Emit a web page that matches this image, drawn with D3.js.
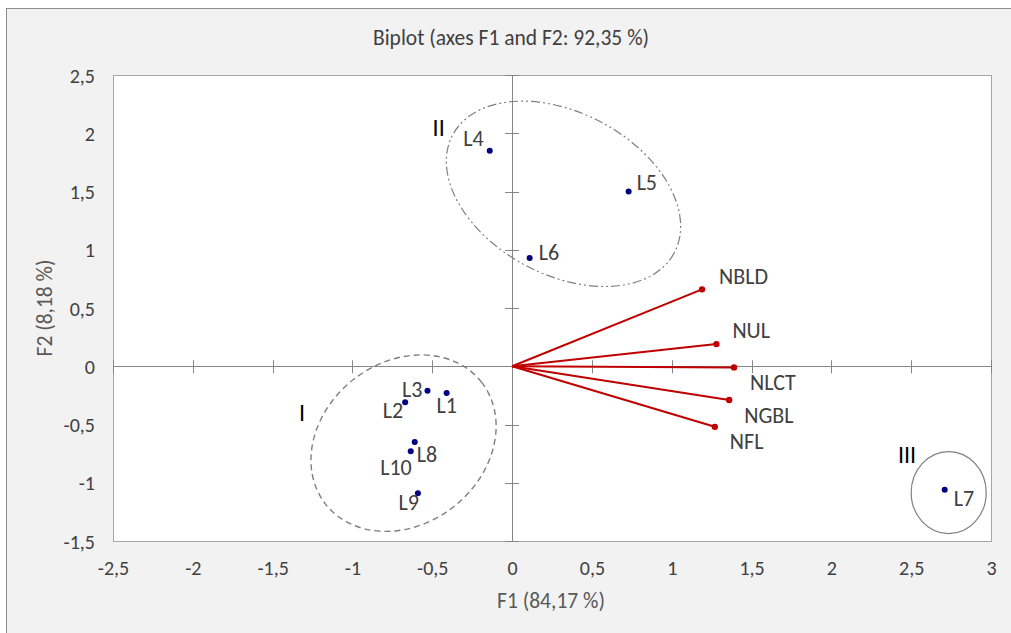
<!DOCTYPE html>
<html><head><meta charset="utf-8">
<script src="https://cdn.jsdelivr.net/npm/d3@7"></script>
<style>body{margin:0;background:#fff}svg{display:block}</style>
</head><body>
<script>
// ---- data ----
const obsNames = ["L1","L2","L3","L4","L5","L6","L7","L8","L9","L10"];
const obsF1 = [-0.41,-0.67,-0.53,-0.14,0.73,0.11,2.71,-0.61,-0.59,-0.635];
const obsF2 = [-0.23,-0.31,-0.21,1.85,1.50,0.93,-1.06,-0.65,-1.09,-0.73];
const varNames = ["NBLD","NUL","NLCT","NGBL","NFL"];
const varF1 = [1.19,1.28,1.39,1.36,1.27];
const varF2 = [0.66,0.19,-0.01,-0.29,-0.52];
const xTicks = [-2.5,-2,-1.5,-1,-0.5,0,0.5,1,1.5,2,2.5,3];
const yTicks = [-1.5,-1,-0.5,0,0.5,1,1.5,2,2.5];
const groupNames = ["I","II","III"];
const groupX = [-1.316,-0.46,2.474];
const groupY = [-0.40,2.05,-0.76];
const ellipseCX = [-0.68,0.322,2.735];
const ellipseCY = [-0.66,1.48,-1.085];

// ---- layout (not data) ----
const W = 1011, H = 633;
const box = {l:113, r:991, t:75, b:541};
const ellipseStyle = [
  {rx:99, ry:81, rot:-38, dash:"6,4", sw:1.4},
  {rx:125.5, ry:81, rot:28, dash:"9,3,2,3,2,3", sw:1.2},
  {rx:37.5, ry:41, rot:0, dash:null, sw:1.2}
];
const obsLabel = {
  L1:{dx:0,dy:12,a:"middle"}, L2:{dx:-2,dy:8,a:"end"}, L3:{dx:-5,dy:-1,a:"end"},
  L4:{dx:-6,dy:-12,a:"end"}, L5:{dx:8,dy:-9,a:"start"}, L6:{dx:9,dy:-5,a:"start"},
  L7:{dx:9,dy:9,a:"start"}, L8:{dx:2,dy:13,a:"start"}, L9:{dx:1,dy:9,a:"end"},
  L10:{dx:1,dy:16,a:"end"}
};
const varLabel = {
  NBLD:{dx:17,dy:-13}, NUL:{dx:16,dy:-14}, NLCT:{dx:16,dy:15}, NGBL:{dx:15,dy:15}, NFL:{dx:15,dy:15}
};
const FONT = "Carlito, 'Liberation Sans', Arial, sans-serif";

const svg = d3.select("body").append("svg").attr("width",W).attr("height",H)
  .style("font-family",FONT);

svg.append("rect").attr("x",0).attr("y",0).attr("width",W).attr("height",H).attr("fill","#fff");
svg.append("rect").attr("x",6.5).attr("y",8.5).attr("width",W+10).attr("height",H+10)
  .attr("fill","#f2f2f2").attr("stroke","#8c8c8c").attr("stroke-width",1);

const x = d3.scaleLinear().domain([-2.5,3]).range([box.l,box.r]);
const y = d3.scaleLinear().domain([-1.5,2.5]).range([box.b,box.t]);

svg.append("rect").attr("x",box.l+0.5).attr("y",box.t+0.5)
  .attr("width",box.r-box.l).attr("height",box.b-box.t)
  .attr("fill","#fff").attr("stroke","#a6a6a6").attr("stroke-width",1);

// title
svg.append("text").attr("x",511).attr("y",45).attr("text-anchor","middle")
  .attr("font-size",21.5).attr("fill","#404040").text("Biplot (axes F1 and F2: 92,35 %)");

// tick labels via axes (domain/lines hidden), placed outside box
const fmt = d=>String(d).replace(".",",");
const xAxis = svg.append("g").attr("transform",`translate(0,${box.b})`)
  .call(d3.axisBottom(x).tickValues(xTicks).tickSize(0).tickFormat(fmt));
xAxis.select(".domain").remove();
xAxis.selectAll("text").attr("y",27).attr("dy",null).attr("dominant-baseline","central")
  .attr("font-size",20).attr("fill","#404040").style("font-family",FONT);

const yAxis = svg.append("g").attr("transform",`translate(${box.l},0)`)
  .call(d3.axisLeft(y).tickValues(yTicks).tickSize(0).tickFormat(fmt));
yAxis.select(".domain").remove();
yAxis.selectAll("text").attr("x",-18).attr("dy",null).attr("dominant-baseline","central")
  .attr("font-size",20).attr("fill","#404040").style("font-family",FONT);

// axis titles
svg.append("text").attr("x",551).attr("y",601).attr("text-anchor","middle")
  .attr("dominant-baseline","central").attr("font-size",21.5).attr("fill","#595959").text("F1 (84,17 %)");
svg.append("text").attr("transform","translate(45,308) rotate(-90)").attr("text-anchor","middle")
  .attr("dominant-baseline","central").attr("font-size",21.5).attr("fill","#595959").text("F2 (8,18 %)");

// zero axes with crossing ticks
const ax = svg.append("g").attr("stroke","#868686").attr("stroke-width",1);
ax.append("line").attr("x1",box.l).attr("x2",box.r).attr("y1",Math.round(y(0))+0.5).attr("y2",Math.round(y(0))+0.5);
ax.append("line").attr("y1",box.t).attr("y2",box.b).attr("x1",Math.round(x(0))+0.5).attr("x2",Math.round(x(0))+0.5);
xTicks.filter(d=>d!==0).forEach(d=>{
  ax.append("line").attr("x1",Math.round(x(d))+0.5).attr("x2",Math.round(x(d))+0.5)
    .attr("y1",y(0)-6).attr("y2",y(0)+7);
});
yTicks.filter(d=>d!==0).forEach(d=>{
  ax.append("line").attr("y1",Math.round(y(d))+0.5).attr("y2",Math.round(y(d))+0.5)
    .attr("x1",x(0)-7).attr("x2",x(0)+7);
});

// ellipses
ellipseCX.forEach((cx,i)=>{
  const s = ellipseStyle[i];
  const e = svg.append("ellipse").attr("cx",0).attr("cy",0).attr("rx",s.rx).attr("ry",s.ry)
    .attr("transform",`translate(${x(cx)},${y(ellipseCY[i])}) rotate(${s.rot})`)
    .attr("fill","none").attr("stroke","#7f7f7f").attr("stroke-width",s.sw);
  if(s.dash) e.attr("stroke-dasharray",s.dash);
});

// group labels
groupNames.forEach((g,i)=>{
  svg.append("text").attr("x",x(groupX[i])).attr("y",y(groupY[i])).attr("text-anchor","middle")
    .attr("dominant-baseline","central").attr("font-size",24).attr("fill","#000").text(g);
});

// vectors
varNames.forEach((v,i)=>{
  svg.append("line").attr("x1",x(0)).attr("y1",y(0)).attr("x2",x(varF1[i])).attr("y2",y(varF2[i]))
    .attr("stroke","#c00000").attr("stroke-width",2);
  svg.append("circle").attr("cx",x(varF1[i])).attr("cy",y(varF2[i])).attr("r",3.2).attr("fill","#c00000");
  const o = varLabel[v];
  svg.append("text").attr("x",x(varF1[i])+o.dx).attr("y",y(varF2[i])+o.dy)
    .attr("dominant-baseline","central").attr("font-size",22).attr("fill","#404040").text(v);
});

// observations
obsNames.forEach((n,i)=>{
  svg.append("circle").attr("cx",x(obsF1[i])).attr("cy",y(obsF2[i])).attr("r",3).attr("fill","#000080");
  const o = obsLabel[n];
  svg.append("text").attr("x",x(obsF1[i])+o.dx).attr("y",y(obsF2[i])+o.dy).attr("text-anchor",o.a)
    .attr("dominant-baseline","central").attr("font-size",22).attr("fill","#404040").text(n);
});
</script>
</body></html>
